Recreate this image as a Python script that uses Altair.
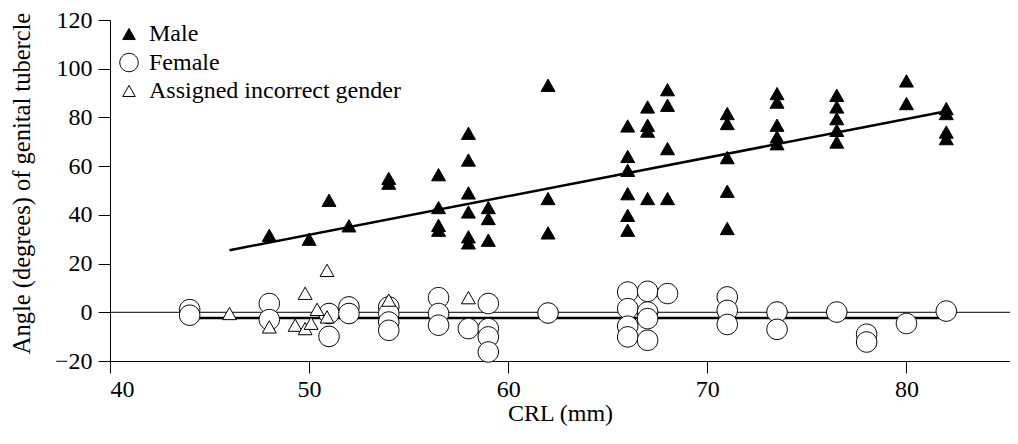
import altair as alt
import pandas as pd

# ---- data ----
male_x = [48, 50, 51, 52, 54, 54,
          56.5, 56.5, 56.5, 56.5,
          58, 58, 58, 58, 58, 58,
          59, 59, 59,
          62, 62, 62,
          66, 66, 66, 66, 66, 66,
          67, 67, 67, 67,
          68, 68, 68, 68,
          71, 71, 71, 71, 71,
          73.5, 73.5, 73.5, 73.5, 73.5,
          76.5, 76.5, 76.5, 76.5, 76.5,
          80, 80,
          82, 82, 82, 82]
male_y = [31.6, 30.0, 46.0, 35.5, 55.0, 53.0,
          56.5, 43.0, 35.7, 33.7,
          73.5, 62.5, 49.0, 41.2, 31.0, 28.5,
          43.0, 38.5, 29.6,
          93.2, 46.7, 32.6,
          76.5, 64.0, 58.3, 48.7, 39.8, 33.7,
          84.3, 76.8, 74.4, 46.7,
          91.4, 85.0, 67.2, 46.7,
          81.6, 77.5, 63.5, 49.7, 34.4,
          89.8, 86.3, 76.8, 72.0, 69.2,
          89.1, 84.3, 79.5, 74.7, 69.9,
          95.0, 85.7,
          83.6, 81.6, 74.0, 71.3]

female_x = [44, 44, 48, 48, 51, 51, 52, 52,
            54, 54, 54, 54, 56.5, 56.5, 56.5, 58,
            59, 59, 59, 59, 62,
            66, 66, 66, 66, 67, 67, 67, 67, 68,
            71, 71, 71, 73.5, 73.5, 76.5, 78, 78, 80, 82]
female_y = [1.1, -1.2, 3.6, -3.0, -0.5, -9.9, 2.2, -0.5,
            2.2, -0.5, -4.0, -7.4, 6.0, -0.5, -5.3, -6.7,
            3.6, -6.7, -10.1, -16.3, -0.3,
            8.3, 1.5, -5.7, -10.1, 8.6, 0.1, -2.6, -11.5, 7.7,
            6.3, 0.8, -5.0, 0.1, -7.0, 0.1, -9.0, -12.2, -4.6, 0.5]

wrong_x = [46, 48, 49.3, 49.8, 50.1, 49.8, 50.4, 50.9, 50.9, 54, 58]
wrong_y = [-0.5, -6.0, -5.3, -6.7, -4.5, 7.8, 1.2, -1.9, 17.2, 5.0, 6.0]

male_fit_x = [46, 82]
male_fit_y = [25.5, 82.5]
female_fit_x = [44, 82]
female_fit_y = [-2.3, -2.3]

groups = ["Male", "Female", "Assigned incorrect gender"]
x_ticks = [40, 50, 60, 70, 80]
y_ticks = [-20, 0, 20, 40, 60, 80, 100, 120]

FONT = "Liberation Serif"
TRI = "M0,-0.6L0.68,0.6L-0.68,0.6Z"
CIRC = "M1,0A1,1,0,1,1,-1,0A1,1,0,1,1,1,0Z"

pts = pd.concat([
    pd.DataFrame({"x": female_x, "y": female_y, "group": "Female"}),
    pd.DataFrame({"x": wrong_x, "y": wrong_y, "group": "Assigned incorrect gender"}),
    pd.DataFrame({"x": male_x, "y": male_y, "group": "Male"}),
], ignore_index=True)

xscale = alt.Scale(domain=[40, 85.2], nice=False, zero=False)
yscale = alt.Scale(domain=[-20, 120], nice=False, zero=False)

xaxis = alt.Axis(values=x_ticks, grid=False, tickSize=12, tickColor="black",
                 domainColor="black", labelColor="black", labelFont=FONT,
                 labelFontSize=24, labelPadding=4, title="CRL (mm)",
                 titleFont=FONT, titleFontSize=24, titleFontWeight="normal",
                 titleColor="black", titleX=450, titleY=40)
yaxis = alt.Axis(values=y_ticks, grid=False, tickSize=12, tickColor="black",
                 domainColor="black", labelColor="black", labelFont=FONT,
                 labelFontSize=24, labelPadding=6,
                 title="Angle (degrees) of genital tubercle",
                 titleFont=FONT, titleFontSize=24.5, titleFontWeight="normal",
                 titleColor="black", titleX=-88, titleY=163,
                 titleBaseline="middle", titleAlign="center")

base_x = alt.X("x:Q", scale=xscale, axis=xaxis)
base_y = alt.Y("y:Q", scale=yscale, axis=yaxis)

zero = alt.Chart(pd.DataFrame({"y": [0]})).mark_rule(
    color="black", strokeWidth=1).encode(y=alt.Y("y:Q", scale=yscale, axis=yaxis))

male_fit = alt.Chart(pd.DataFrame({"x": male_fit_x, "y": male_fit_y})).mark_line(
    color="black", strokeWidth=2.5).encode(x=base_x, y=base_y)
female_fit = alt.Chart(pd.DataFrame({"x": female_fit_x, "y": female_fit_y})).mark_line(
    color="black", strokeWidth=2.5).encode(x=base_x, y=base_y)

points = alt.Chart(pts).mark_point(filled=True, size=420, strokeWidth=1,
                                   opacity=1).encode(
    x=base_x, y=base_y,
    fill=alt.Fill("group:N", scale=alt.Scale(domain=groups,
                                             range=["black", "white", "white"]),
                  title=None),
    stroke=alt.Stroke("group:N", scale=alt.Scale(domain=groups,
                                                 range=["black", "black", "black"]),
                      title=None),
    shape=alt.Shape("group:N", scale=alt.Scale(domain=groups,
                                               range=[TRI, CIRC, TRI]),
                    title=None),
)

chart = alt.layer(zero, male_fit, female_fit, points).properties(
    width=900, height=341,
    autosize=alt.AutoSizeParams(type="none"),
    padding={"left": 102, "top": 12, "right": 0, "bottom": 70},
).configure_view(stroke=None).configure_legend(
    orient="none", legendX=7, legendY=2, padding=0,
    labelFont=FONT, labelFontSize=24, labelColor="black", labelLimit=500,
    symbolSize=340, symbolStrokeColor="black", symbolStrokeWidth=1,
    rowPadding=4.5, labelOffset=8,
)

chart.save("out.html", embed_options={"renderer": "svg", "actions": False})
